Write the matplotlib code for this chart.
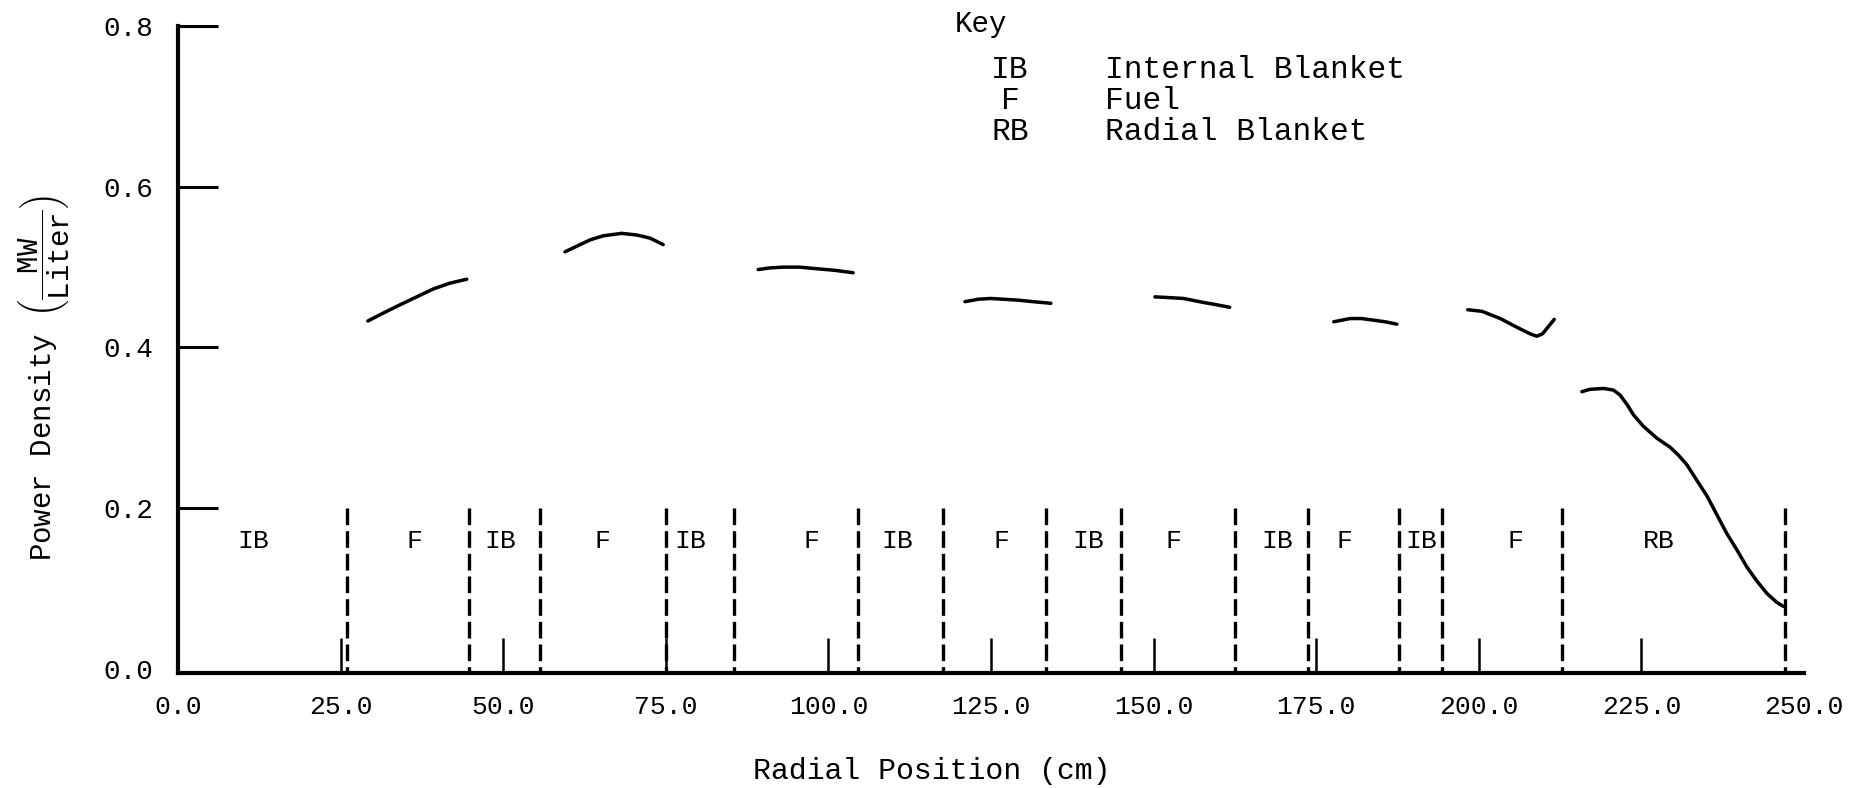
import matplotlib
matplotlib.use("Agg")
import matplotlib.pyplot as plt

# typewriter-ish look
plt.rcParams['font.family'] = ['Liberation Mono', 'DejaVu Sans Mono']
plt.rcParams['mathtext.fontset'] = 'custom'
plt.rcParams['mathtext.rm'] = 'Liberation Mono'

# x ticks (cm) and y ticks (MW/Liter)
x_ticks = [0, 25, 50, 75, 100, 125, 150, 175, 200, 225, 250]
x_tick_labels = ['0.0', '25.0', '50.0', '75.0', '100.0', '125.0', '150.0', '175.0', '200.0', '225.0', '250.0']
y_ticks = [0.0, 0.2, 0.4, 0.6, 0.8]
y_tick_labels = ['0.0', '0.2', '0.4', '0.6', '0.8']

# zone boundaries (dashed lines) and zone names
boundaries = [26.0, 44.7, 55.7, 75.0, 85.5, 104.6, 117.6, 133.5, 145.0, 162.5, 173.8, 187.8, 194.3, 212.8, 247.1]
zone_names = ['IB', 'F', 'IB', 'F', 'IB', 'F', 'IB', 'F', 'IB', 'F', 'IB', 'F', 'IB', 'F', 'RB']
zone_name_x = [11.5, 36.3, 49.5, 65.2, 78.8, 97.4, 110.6, 126.6, 139.9, 153.0, 169.0, 179.4, 191.2, 205.7, 227.7]

# power density curve, one piece per fuel zone + radial blanket
curve_r = [
    [29.2, 31.6, 34.1, 36.7, 39.3, 41.8, 44.4],
    [59.5, 61.3, 63.4, 65.4, 68.2, 70.5, 72.6, 74.6],
    [89.2, 91.0, 93.1, 95.5, 98.2, 101.0, 103.8],
    [121.0, 123.0, 124.9, 127.0, 129.0, 131.5, 134.2],
    [150.2, 152.5, 154.6, 157.7, 159.8, 161.7],
    [177.7, 180.2, 182.0, 183.8, 185.6, 187.4],
    [198.3, 200.5, 203.3, 205.9, 207.9, 208.9, 209.8, 210.5, 211.6],
    [215.85, 217.1, 219.2, 220.7, 221.7, 222.8, 223.8, 225.3, 227.4, 229.4, 230.7, 232.0,
     233.5, 235.1, 236.6, 238.1, 239.7, 241.2, 242.8, 244.3, 245.8, 246.8],
]
curve_p = [
    [0.433, 0.443, 0.453, 0.463, 0.473, 0.480, 0.485],
    [0.519, 0.526, 0.534, 0.539, 0.542, 0.540, 0.536, 0.528],
    [0.497, 0.499, 0.500, 0.500, 0.498, 0.496, 0.493],
    [0.457, 0.460, 0.461, 0.460, 0.459, 0.457, 0.455],
    [0.463, 0.462, 0.461, 0.456, 0.453, 0.450],
    [0.432, 0.436, 0.436, 0.434, 0.432, 0.429],
    [0.447, 0.445, 0.436, 0.425, 0.417, 0.414, 0.417, 0.424, 0.435],
    [0.345, 0.348, 0.349, 0.347, 0.341, 0.329, 0.316, 0.302, 0.287, 0.276, 0.266, 0.254,
     0.235, 0.215, 0.192, 0.169, 0.148, 0.127, 0.109, 0.094, 0.083, 0.078],
]

key_abbr = ['IB', 'F', 'RB']
key_text = ['Internal Blanket', 'Fuel', 'Radial Blanket']

W, H = 1854, 788
fig = plt.figure(figsize=(W / 100, H / 100), dpi=100)
ax = fig.add_axes([178 / W, 1 - 673 / H, 1626 / W, 647 / H])

ax.set_xlim(0, 250)
ax.set_ylim(-0.005, 0.8)

# curve
for r, p in zip(curve_r, curve_p):
    ax.plot(r, p, color='black', lw=2.5, solid_capstyle='round', solid_joinstyle='round')

# dashed zone boundaries
for b in boundaries:
    ax.plot([b, b], [0.2, -0.005], color='black', lw=2.4, linestyle=(0, (5, 1.8)))

# zone names
for name, xn in zip(zone_names, zone_name_x):
    ax.text(xn, 0.159, name, ha='center', va='center', fontsize=19)

# axes styling
for s in ['top', 'right']:
    ax.spines[s].set_visible(False)
for s in ['left', 'bottom']:
    ax.spines[s].set_linewidth(3)

ax.set_xticks(x_ticks, x_tick_labels)
ax.set_yticks(y_ticks, y_tick_labels)
ax.tick_params(axis='x', direction='in', length=25, width=1.8, pad=16, labelsize=19)
ax.tick_params(axis='y', direction='in', length=29, width=2.2, pad=18, labelsize=20)
# no tick marks at the ends / origin
ax.xaxis.get_major_ticks()[0].tick1line.set_visible(False)
ax.xaxis.get_major_ticks()[-1].tick1line.set_visible(False)
ax.yaxis.get_major_ticks()[0].tick1line.set_visible(False)

# axis titles
fig.text(932 / W, 1 - 771 / H, 'Radial Position (cm)', ha='center', va='center', fontsize=21.5)
fig.text(44 / W, 1 - 378 / H, r'Power Density $\left(\dfrac{\mathrm{MW}}{\mathrm{Liter}}\right)$',
         rotation=90, ha='center', va='center', fontsize=21)

# key
fig.text(955 / W, 1 - 24 / H, 'Key', ha='left', va='center', fontsize=21)
for i, (a, t) in enumerate(zip(key_abbr, key_text)):
    yy = 1 - (70 + 31 * i) / H
    fig.text(1010 / W, yy, a, ha='center', va='center', fontsize=22.5)
    fig.text(1105 / W, yy, t, ha='left', va='center', fontsize=22.5)

fig.savefig('out.png', dpi=100)
